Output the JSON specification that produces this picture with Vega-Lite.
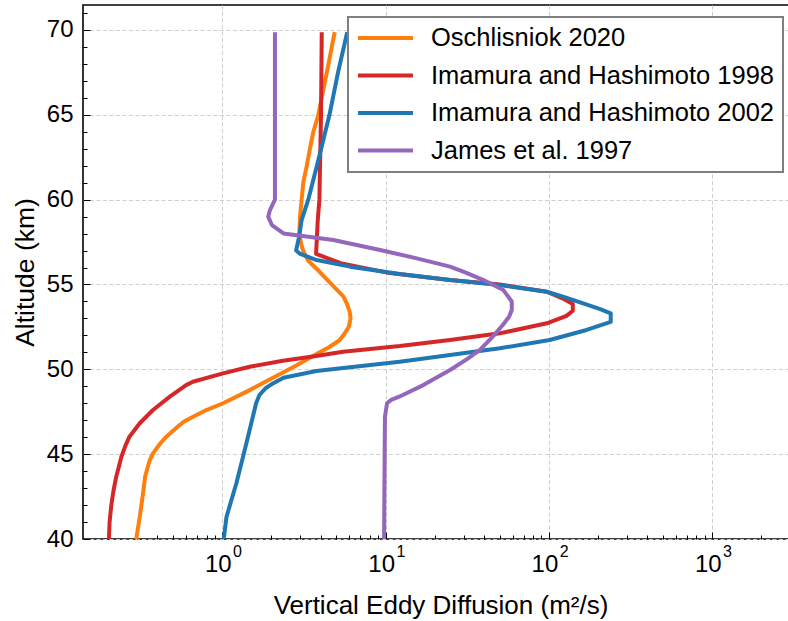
{
  "$schema": "https://vega.github.io/schema/vega-lite/v6.json",
  "width": 706,
  "height": 534,
  "autosize": {"type": "none"},
  "padding": {"left": 83, "top": 5, "right": 0, "bottom": 82},
  "background": "white",
  "config": {
    "font": "Liberation Sans",
    "view": {"stroke": "black", "strokeWidth": 1.6}
  },
  "data": {
    "values": [
      {"s": "Oschlisniok 2020", "alt": 40.0, "k": 0.297},
      {"s": "Oschlisniok 2020", "alt": 41.3, "k": 0.312},
      {"s": "Oschlisniok 2020", "alt": 42.5, "k": 0.325},
      {"s": "Oschlisniok 2020", "alt": 43.7, "k": 0.337},
      {"s": "Oschlisniok 2020", "alt": 44.6, "k": 0.358},
      {"s": "Oschlisniok 2020", "alt": 45.05, "k": 0.376},
      {"s": "Oschlisniok 2020", "alt": 45.6, "k": 0.414},
      {"s": "Oschlisniok 2020", "alt": 46.03, "k": 0.454},
      {"s": "Oschlisniok 2020", "alt": 46.6, "k": 0.53},
      {"s": "Oschlisniok 2020", "alt": 46.91, "k": 0.58},
      {"s": "Oschlisniok 2020", "alt": 47.2, "k": 0.662},
      {"s": "Oschlisniok 2020", "alt": 47.6, "k": 0.798},
      {"s": "Oschlisniok 2020", "alt": 48.0, "k": 1.01},
      {"s": "Oschlisniok 2020", "alt": 48.7, "k": 1.42},
      {"s": "Oschlisniok 2020", "alt": 49.4, "k": 1.95},
      {"s": "Oschlisniok 2020", "alt": 50.2, "k": 2.8},
      {"s": "Oschlisniok 2020", "alt": 50.9, "k": 3.77},
      {"s": "Oschlisniok 2020", "alt": 51.3, "k": 4.5},
      {"s": "Oschlisniok 2020", "alt": 51.7, "k": 5.2},
      {"s": "Oschlisniok 2020", "alt": 52.1, "k": 5.6},
      {"s": "Oschlisniok 2020", "alt": 52.5, "k": 5.95},
      {"s": "Oschlisniok 2020", "alt": 53.0, "k": 6.1},
      {"s": "Oschlisniok 2020", "alt": 53.4, "k": 6.02},
      {"s": "Oschlisniok 2020", "alt": 53.85, "k": 5.8},
      {"s": "Oschlisniok 2020", "alt": 54.3, "k": 5.51},
      {"s": "Oschlisniok 2020", "alt": 54.8, "k": 4.9},
      {"s": "Oschlisniok 2020", "alt": 55.3, "k": 4.36},
      {"s": "Oschlisniok 2020", "alt": 55.9, "k": 3.8},
      {"s": "Oschlisniok 2020", "alt": 56.4, "k": 3.36},
      {"s": "Oschlisniok 2020", "alt": 57.0, "k": 3.12},
      {"s": "Oschlisniok 2020", "alt": 57.4, "k": 3.04},
      {"s": "Oschlisniok 2020", "alt": 58.0, "k": 2.96},
      {"s": "Oschlisniok 2020", "alt": 59.0, "k": 2.99},
      {"s": "Oschlisniok 2020", "alt": 60.0, "k": 3.06},
      {"s": "Oschlisniok 2020", "alt": 61.0, "k": 3.13},
      {"s": "Oschlisniok 2020", "alt": 62.0, "k": 3.29},
      {"s": "Oschlisniok 2020", "alt": 63.0, "k": 3.44},
      {"s": "Oschlisniok 2020", "alt": 64.0, "k": 3.61},
      {"s": "Oschlisniok 2020", "alt": 65.0, "k": 3.87},
      {"s": "Oschlisniok 2020", "alt": 66.0, "k": 4.06},
      {"s": "Oschlisniok 2020", "alt": 67.0, "k": 4.26},
      {"s": "Oschlisniok 2020", "alt": 68.0, "k": 4.47},
      {"s": "Oschlisniok 2020", "alt": 69.0, "k": 4.68},
      {"s": "Oschlisniok 2020", "alt": 69.75, "k": 4.85},

      {"s": "Imamura and Hashimoto 1998", "alt": 40.0, "k": 0.202},
      {"s": "Imamura and Hashimoto 1998", "alt": 41.0, "k": 0.204},
      {"s": "Imamura and Hashimoto 1998", "alt": 42.0, "k": 0.209},
      {"s": "Imamura and Hashimoto 1998", "alt": 42.9, "k": 0.216},
      {"s": "Imamura and Hashimoto 1998", "alt": 43.67, "k": 0.224},
      {"s": "Imamura and Hashimoto 1998", "alt": 44.85, "k": 0.241},
      {"s": "Imamura and Hashimoto 1998", "alt": 45.5, "k": 0.255},
      {"s": "Imamura and Hashimoto 1998", "alt": 46.03, "k": 0.27},
      {"s": "Imamura and Hashimoto 1998", "alt": 46.82, "k": 0.312},
      {"s": "Imamura and Hashimoto 1998", "alt": 47.6, "k": 0.376},
      {"s": "Imamura and Hashimoto 1998", "alt": 48.39, "k": 0.477},
      {"s": "Imamura and Hashimoto 1998", "alt": 49.07, "k": 0.6},
      {"s": "Imamura and Hashimoto 1998", "alt": 49.27, "k": 0.66},
      {"s": "Imamura and Hashimoto 1998", "alt": 49.76, "k": 1.01},
      {"s": "Imamura and Hashimoto 1998", "alt": 50.15, "k": 1.47},
      {"s": "Imamura and Hashimoto 1998", "alt": 50.5, "k": 2.35},
      {"s": "Imamura and Hashimoto 1998", "alt": 50.78, "k": 3.76},
      {"s": "Imamura and Hashimoto 1998", "alt": 51.04, "k": 5.48},
      {"s": "Imamura and Hashimoto 1998", "alt": 51.37, "k": 12.2},
      {"s": "Imamura and Hashimoto 1998", "alt": 51.73, "k": 24.8},
      {"s": "Imamura and Hashimoto 1998", "alt": 52.12, "k": 50},
      {"s": "Imamura and Hashimoto 1998", "alt": 52.71, "k": 97},
      {"s": "Imamura and Hashimoto 1998", "alt": 53.15, "k": 128},
      {"s": "Imamura and Hashimoto 1998", "alt": 53.45, "k": 140},
      {"s": "Imamura and Hashimoto 1998", "alt": 53.85, "k": 140},
      {"s": "Imamura and Hashimoto 1998", "alt": 54.2, "k": 120},
      {"s": "Imamura and Hashimoto 1998", "alt": 54.57, "k": 97},
      {"s": "Imamura and Hashimoto 1998", "alt": 55.0, "k": 50},
      {"s": "Imamura and Hashimoto 1998", "alt": 55.26, "k": 24.8},
      {"s": "Imamura and Hashimoto 1998", "alt": 55.67, "k": 10.6},
      {"s": "Imamura and Hashimoto 1998", "alt": 56.26, "k": 5.3},
      {"s": "Imamura and Hashimoto 1998", "alt": 56.8, "k": 3.75},
      {"s": "Imamura and Hashimoto 1998", "alt": 58.8, "k": 3.84},
      {"s": "Imamura and Hashimoto 1998", "alt": 60.0, "k": 3.93},
      {"s": "Imamura and Hashimoto 1998", "alt": 65.0, "k": 4.02},
      {"s": "Imamura and Hashimoto 1998", "alt": 69.75, "k": 4.06},

      {"s": "Imamura and Hashimoto 2002", "alt": 40.0, "k": 1.02},
      {"s": "Imamura and Hashimoto 2002", "alt": 41.3, "k": 1.06},
      {"s": "Imamura and Hashimoto 2002", "alt": 43.3, "k": 1.22},
      {"s": "Imamura and Hashimoto 2002", "alt": 45.6, "k": 1.40},
      {"s": "Imamura and Hashimoto 2002", "alt": 48.0, "k": 1.61},
      {"s": "Imamura and Hashimoto 2002", "alt": 48.5, "k": 1.69},
      {"s": "Imamura and Hashimoto 2002", "alt": 48.9, "k": 1.85},
      {"s": "Imamura and Hashimoto 2002", "alt": 49.17, "k": 2.04},
      {"s": "Imamura and Hashimoto 2002", "alt": 49.5, "k": 2.37},
      {"s": "Imamura and Hashimoto 2002", "alt": 49.9, "k": 3.76},
      {"s": "Imamura and Hashimoto 2002", "alt": 50.45, "k": 12.2},
      {"s": "Imamura and Hashimoto 2002", "alt": 50.84, "k": 24.8},
      {"s": "Imamura and Hashimoto 2002", "alt": 51.24, "k": 50},
      {"s": "Imamura and Hashimoto 2002", "alt": 51.73, "k": 101},
      {"s": "Imamura and Hashimoto 2002", "alt": 52.32, "k": 170},
      {"s": "Imamura and Hashimoto 2002", "alt": 52.8, "k": 239},
      {"s": "Imamura and Hashimoto 2002", "alt": 53.3, "k": 239},
      {"s": "Imamura and Hashimoto 2002", "alt": 53.55, "k": 206},
      {"s": "Imamura and Hashimoto 2002", "alt": 54.28, "k": 122},
      {"s": "Imamura and Hashimoto 2002", "alt": 54.57, "k": 97},
      {"s": "Imamura and Hashimoto 2002", "alt": 54.97, "k": 50},
      {"s": "Imamura and Hashimoto 2002", "alt": 55.26, "k": 24.8},
      {"s": "Imamura and Hashimoto 2002", "alt": 55.62, "k": 12.2},
      {"s": "Imamura and Hashimoto 2002", "alt": 56.05, "k": 6.06},
      {"s": "Imamura and Hashimoto 2002", "alt": 56.44, "k": 3.78},
      {"s": "Imamura and Hashimoto 2002", "alt": 56.8, "k": 3.0},
      {"s": "Imamura and Hashimoto 2002", "alt": 57.0, "k": 2.83},
      {"s": "Imamura and Hashimoto 2002", "alt": 57.8, "k": 2.95},
      {"s": "Imamura and Hashimoto 2002", "alt": 58.8, "k": 3.06},
      {"s": "Imamura and Hashimoto 2002", "alt": 60.0, "k": 3.36},
      {"s": "Imamura and Hashimoto 2002", "alt": 62.5, "k": 3.91},
      {"s": "Imamura and Hashimoto 2002", "alt": 65.0, "k": 4.53},
      {"s": "Imamura and Hashimoto 2002", "alt": 67.5, "k": 5.11},
      {"s": "Imamura and Hashimoto 2002", "alt": 69.75, "k": 5.78},

      {"s": "James et al. 1997", "alt": 40.0, "k": 9.78},
      {"s": "James et al. 1997", "alt": 47.2, "k": 9.9},
      {"s": "James et al. 1997", "alt": 48.0, "k": 10.2},
      {"s": "James et al. 1997", "alt": 48.2, "k": 10.8},
      {"s": "James et al. 1997", "alt": 48.4, "k": 12.2},
      {"s": "James et al. 1997", "alt": 49.07, "k": 17.0},
      {"s": "James et al. 1997", "alt": 49.96, "k": 24.8},
      {"s": "James et al. 1997", "alt": 50.6, "k": 31.5},
      {"s": "James et al. 1997", "alt": 51.14, "k": 37.8},
      {"s": "James et al. 1997", "alt": 51.9, "k": 45},
      {"s": "James et al. 1997", "alt": 52.6, "k": 52},
      {"s": "James et al. 1997", "alt": 53.1, "k": 57},
      {"s": "James et al. 1997", "alt": 53.5, "k": 59.2},
      {"s": "James et al. 1997", "alt": 54.0, "k": 59.2},
      {"s": "James et al. 1997", "alt": 54.67, "k": 52.6},
      {"s": "James et al. 1997", "alt": 55.26, "k": 39.7},
      {"s": "James et al. 1997", "alt": 55.7, "k": 31},
      {"s": "James et al. 1997", "alt": 56.05, "k": 24.8},
      {"s": "James et al. 1997", "alt": 56.54, "k": 15.5},
      {"s": "James et al. 1997", "alt": 57.03, "k": 9.25},
      {"s": "James et al. 1997", "alt": 57.62, "k": 4.78},
      {"s": "James et al. 1997", "alt": 58.01, "k": 2.37},
      {"s": "James et al. 1997", "alt": 58.5, "k": 2.01},
      {"s": "James et al. 1997", "alt": 59.0, "k": 1.91},
      {"s": "James et al. 1997", "alt": 59.4, "k": 1.96},
      {"s": "James et al. 1997", "alt": 60.0, "k": 2.1},
      {"s": "James et al. 1997", "alt": 69.75, "k": 2.1}
    ]
  },
  "resolve": {"axis": {"x": "independent", "y": "independent"}},
  "layer": [
    {
      "mark": {"type": "line", "strokeWidth": 4, "strokeCap": "square", "strokeJoin": "round", "clip": true},
      "encoding": {
        "x": {
          "field": "k", "type": "quantitative",
          "scale": {"type": "log", "domain": [0.1402, 2951], "nice": false},
          "axis": {
            "orient": "bottom",
            "values": [1, 10, 100, 1000],
            "labelExpr": "'10'",
            "labelFontSize": 24,
            "labelColor": "black",
            "labelBaseline": "top",
            "labelPadding": 20,
            "labelOffset": -4.5,
            "labelFlush": false,
            "labelOverlap": false,
            "tickSize": -7,
            "tickColor": "black",
            "tickWidth": 1,
            "domain": false,
            "grid": true,
            "gridColor": "#cfcfcf",
            "gridDash": [4, 2.5],
            "gridWidth": 1,
            "title": "Vertical Eddy Diffusion (m²/s)",
            "titleFontSize": 26,
            "titleFontWeight": "normal",
            "titleColor": "black",
            "titleBaseline": "alphabetic",
            "titleAlign": "center",
            "titleX": 357.5,
            "titleY": 74
          }
        },
        "y": {
          "field": "alt", "type": "quantitative",
          "scale": {"domain": [40, 71.47], "nice": false, "zero": false},
          "axis": {
            "orient": "left",
            "values": [40, 45, 50, 55, 60, 65, 70],
            "labelFontSize": 24,
            "labelColor": "black",
            "labelPadding": 17,
            "labelFlush": false,
            "labelOverlap": false,
            "tickSize": -7,
            "tickColor": "black",
            "tickWidth": 1,
            "domain": false,
            "grid": true,
            "gridColor": "#cfcfcf",
            "gridDash": [4, 2.5],
            "gridWidth": 1,
            "title": "Altitude (km)",
            "titleFontSize": 26.5,
            "titleFontWeight": "normal",
            "titleColor": "black",
            "titleBaseline": "alphabetic",
            "titleAlign": "center",
            "titleX": -50,
            "titleY": 267
          }
        },
        "color": {
          "field": "s", "type": "nominal",
          "scale": {
            "domain": ["Oschlisniok 2020", "Imamura and Hashimoto 1998", "Imamura and Hashimoto 2002", "James et al. 1997"],
            "range": ["#ff7f0e", "#d62728", "#1f77b4", "#9467bd"]
          },
          "legend": {
            "orient": "none",
            "legendX": 265,
            "legendY": 12,
            "title": null,
            "symbolType": "stroke",
            "symbolSize": 3025,
            "symbolStrokeWidth": 4,
            "clipHeight": 26,
            "rowPadding": 10.5,
            "labelFontSize": 25.5,
            "labelColor": "black",
            "labelOffset": 16,
            "labelLimit": 0,
            "padding": 8,
            "strokeColor": "#7f7f7f",
            "fillColor": "white",
            "cornerRadius": 0,
            "encode": {"legend": {"update": {"strokeWidth": {"value": 2}}}}
          }
        },
        "order": {"field": "alt", "type": "quantitative"}
      }
    },
    {
      "mark": {"type": "point", "opacity": 0},
      "encoding": {
        "x": {
          "field": "k", "type": "quantitative",
          "scale": {"type": "log", "domain": [0.1402, 2951], "nice": false},
          "axis": {
            "orient": "bottom",
            "values": [0.2, 0.3, 0.4, 0.5, 0.6, 0.7, 0.8, 0.9, 2, 3, 4, 5, 6, 7, 8, 9, 20, 30, 40, 50, 60, 70, 80, 90, 200, 300, 400, 500, 600, 700, 800, 900, 2000],
            "labels": false,
            "tickSize": -4,
            "tickColor": "black",
            "tickWidth": 1,
            "domain": false,
            "grid": false,
            "title": null
          }
        },
        "y": {
          "field": "alt", "type": "quantitative",
          "scale": {"domain": [40, 71.47], "nice": false, "zero": false},
          "axis": {
            "orient": "left",
            "values": [41, 42, 43, 44, 46, 47, 48, 49, 51, 52, 53, 54, 56, 57, 58, 59, 61, 62, 63, 64, 66, 67, 68, 69, 71],
            "labels": false,
            "tickSize": -4,
            "tickColor": "black",
            "tickWidth": 1,
            "domain": false,
            "grid": false,
            "title": null
          }
        }
      }
    },
    {
      "mark": {"type": "point", "opacity": 0},
      "encoding": {
        "x": {
          "field": "k", "type": "quantitative",
          "scale": {"type": "log", "domain": [0.1402, 2951], "nice": false},
          "axis": {
            "orient": "bottom",
            "values": [1, 10, 100, 1000],
            "labelExpr": "'' + round(log(datum.value) / LN10)",
            "labelFontSize": 16,
            "labelColor": "black",
            "labelBaseline": "top",
            "labelPadding": 4,
            "labelOffset": 14.7,
            "labelFlush": false,
            "labelOverlap": false,
            "ticks": false,
            "domain": false,
            "grid": false,
            "title": null
          }
        }
      }
    }
  ]
}
